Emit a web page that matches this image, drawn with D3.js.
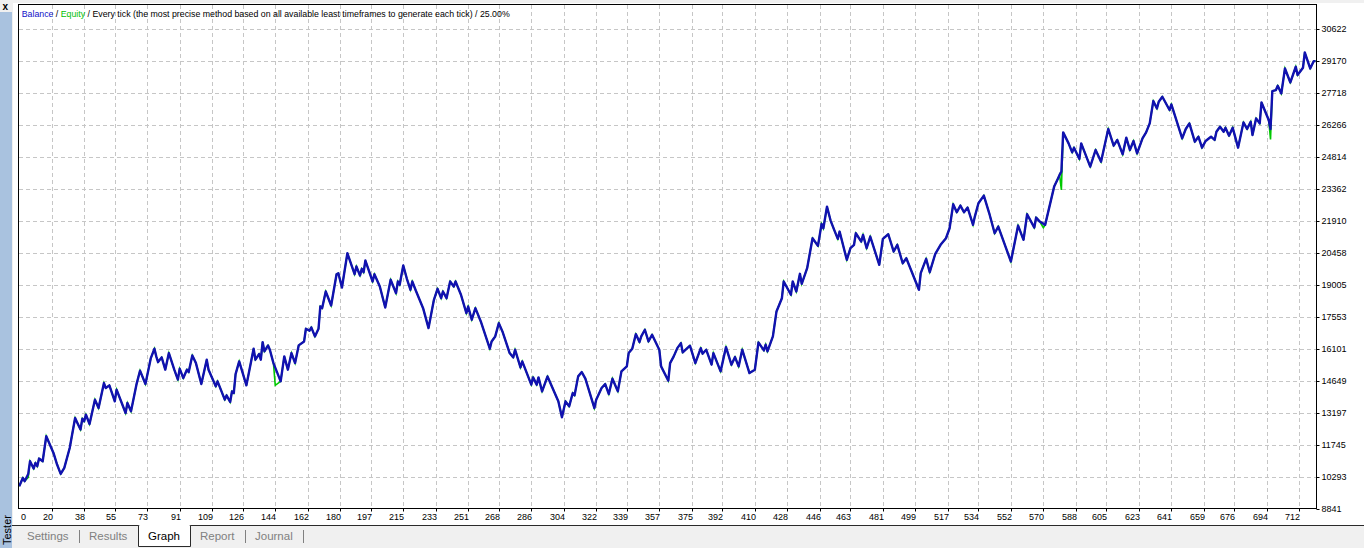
<!DOCTYPE html>
<html>
<head>
<meta charset="utf-8">
<script src="https://cdn.jsdelivr.net/npm/d3@7"></script>
<style>
html, body { margin: 0; padding: 0; background: #f0f0f0; overflow: hidden; }
svg { display: block; font-family: "Liberation Sans", Arial, sans-serif; }
</style>
</head>
<body>
<svg id="chart" width="1364" height="548"></svg>
<script>
// [trade #, balance]
const balancePoints = [
  [2,9853],[4,10230],[5,10080],[7,10411],[8,10988],[10,10656],[11,10910],[12,10761],[13,11110],[15,10988],
  [17,12122],[21,11364],[23,10838],[25,10411],[27,10684],[30,11591],[33,12952],[34,12771],[36,12426],[37,12925],
  [38,12802],[39,13106],[41,12680],[44,13787],[46,13406],[49,14540],[50,14313],[52,14436],[55,13710],[56,14241],
  [61,13179],[62,13633],[64,13256],[67,14468],[69,15103],[72,14495],[75,15675],[77,16101],[78,15752],[79,15493],
  [81,15707],[83,15148],[85,15902],[88,15148],[90,14695],[91,15194],[93,14767],[95,15148],[96,15040],[98,15797],
  [100,15448],[103,14495],[106,15602],[107,15148],[111,14391],[112,14618],[116,13787],[117,13982],[119,13678],[120,14164],
  [121,14087],[122,14949],[124,15525],[125,15253],[128,14436],[132,16101],[133,15602],[135,15856],[136,15602],[137,16402],
  [138,15979],[140,16251],[141,16056],[143,15448],[147,14618],[149,15752],[151,15148],[153,15902],[155,15448],[157,16251],
  [160,16432],[161,17009],[163,16918],[164,17068],[166,16659],[168,17009],[169,18021],[170,17943],[172,18701],[175,18066],
  [178,19486],[179,19532],[181,18883],[184,20439],[188,19486],[189,19836],[191,19427],[192,19731],[193,19577],[194,20108],
  [198,19155],[199,19486],[202,18928],[205,17975],[208,19232],[211,18624],[212,19155],[213,19005],[215,19881],[217,19277],
  [219,18778],[220,19155],[222,18733],[226,17943],[229,17036],[232,18325],[234,18824],[236,18397],[237,18701],[239,18397],
  [241,19155],[243,18928],[244,19155],[247,18552],[250,17717],[251,18021],[253,17417],[255,17943],[258,17340],[263,16101],
  [264,16432],[266,16659],[268,17263],[270,16886],[274,15902],[276,15707],[277,16056],[280,15253],[281,15525],[286,14468],
  [287,14799],[289,14468],[290,14799],[292,14164],[295,14844],[297,14468],[301,13710],[303,12984],[305,13710],[307,13483],
  [309,14087],[310,13982],[312,14844],[314,15040],[316,14740],[321,13406],[322,13787],[325,14313],[327,14495],[329,14041],
  [331,14740],[334,14164],[336,15071],[339,15298],[340,15902],[342,16101],[344,16764],[346,16402],[347,16659],[349,16963],
  [351,16432],[353,16736],[357,16056],[358,15298],[362,14649],[363,15448],[365,15752],[367,16128],[369,16355],[370,15933],
  [374,16237],[377,15448],[380,16128],[381,15874],[383,16056],[386,15375],[387,15902],[391,15071],[394,16174],[397,15375],
  [399,15720],[401,15298],[403,16056],[407,14994],[410,15148],[412,16387],[415,16024],[416,16283],[417,15979],[420,16659],
  [422,17794],[425,18397],[426,19155],[430,18552],[431,19155],[433,18701],[435,19504],[436,19051],[439,19759],[442,21120],
  [445,20775],[447,21773],[448,21573],[450,22558],[452,21923],[454,21501],[456,21092],[457,21424],[461,20140],[463,20666],
  [465,20820],[466,21347],[469,20970],[470,21274],[472,20666],[474,21197],[479,19913],[481,21092],[484,21301],[487,20516],
  [489,20820],[492,19985],[494,20212],[501,18778],[502,19532],[505,20185],[507,19577],[510,20394],[513,20820],[516,21120],
  [518,21573],[520,22662],[522,22300],[524,22603],[526,22300],[528,22513],[531,21728],[532,22104],[534,22708],[537,23057],
  [540,22254],[543,21347],[545,21651],[552,20062],[556,21696],[559,21047],[561,22209],[565,21605],[566,22059],[568,21877],
  [571,21728],[576,23466],[578,23815],[579,23996],[580,24146],[581,25929],[584,25430],[586,25022],[587,25235],[590,24723],
  [591,25430],[596,24373],[599,25131],[602,24600],[606,26084],[609,25326],[611,25585],[614,24931],[616,25689],[618,25131],
  [620,25539],[622,24977],[625,25657],[627,25929],[629,26338],[631,27354],[633,27018],[634,27322],[636,27549],[640,26946],
  [641,27200],[647,25657],[649,26084],[651,26338],[654,25507],[656,25734],[658,25235],[660,25539],[663,25734],[665,25585],
  [666,25961],[668,26188],[670,25961],[671,26143],[673,25780],[675,26143],[678,25235],[681,26383],[683,26084],[685,26415],
  [686,25812],[688,26565],[690,26338],[691,27291],[695,26492],[696,26084],[697,27808],[699,27853],[700,28048],[702,27699],
  [704,28833],[707,28198],[710,28911],[711,28534],[714,28865],[715,29559],[718,28833],[720,29169],[721,29169]
];

// equity where it falls below the balance line
const equityDips = [[7,10250],[144,14436],[570,21600],[580,23316],[696,25612]];

const xTicks = [0,20,38,55,73,91,109,126,144,162,180,197,215,233,251,268,286,304,322,339,357,375,392,410,428,446,463,481,499,517,534,552,570,588,605,623,641,659,676,694,712];
const yTicks = [8841,10293,11745,13197,14649,16101,17553,19005,20458,21910,23362,24814,26266,27718,29170,30622];

const legendParts = [
  {text: "Balance", color: "#1010c8"},
  {text: " / ", color: "#000"},
  {text: "Equity", color: "#00c000"},
  {text: " / Every tick (the most precise method based on all available least timeframes to generate each tick) / 25.00%", color: "#000"}
];
const tabs = ["Settings", "Results", "Graph", "Report", "Journal"];
const activeTab = "Graph";

const W = 1364, H = 548;
const plot = {left: 18.5, right: 1316.5, top: 4.5, bottom: 508.5};

const svg = d3.select("#chart");

// window chrome
svg.append("rect").attr("x", 13).attr("y", 3).attr("width", W - 13).attr("height", 522).attr("fill", "#fff");
svg.append("rect").attr("x", 0).attr("y", 12).attr("width", 12).attr("height", H - 12).attr("fill", "#a9c2df");
svg.append("text").attr("x", 2.5).attr("y", 9.5).attr("font-size", 10).attr("font-weight", "bold").text("x");
svg.append("text")
    .attr("transform", "translate(10.5,545) rotate(-90)")
    .attr("font-size", 11).attr("fill", "#000")
    .text("Tester");

const x = d3.scaleLinear().domain([1.6, 721.5]).range([plot.left, plot.right]);
const y = d3.scaleLinear().domain([8841, 31740]).range([plot.bottom, plot.top]);

// grid
const grid = svg.append("g")
    .attr("stroke", "#c6c6c6")
    .attr("stroke-dasharray", "4,3")
    .attr("shape-rendering", "crispEdges");

grid.selectAll(".vg")
    .data(xTicks.filter(d => d > 0))
    .join("line")
    .attr("x1", d => Math.round(x(d)) + 0.5)
    .attr("x2", d => Math.round(x(d)) + 0.5)
    .attr("y1", plot.top)
    .attr("y2", plot.bottom);

grid.selectAll(".hg")
    .data(yTicks.slice(1))
    .join("line")
    .attr("x1", plot.left)
    .attr("x2", plot.right)
    .attr("y1", d => Math.round(y(d)) + 0.5)
    .attr("y2", d => Math.round(y(d)) + 0.5);

// lines
svg.append("clipPath").attr("id", "clip")
    .append("rect")
    .attr("x", plot.left).attr("y", plot.top)
    .attr("width", plot.right - plot.left).attr("height", plot.bottom - plot.top);

const dipMap = new Map(equityDips.map(d => [d[0], d[1]]));
const equityPoints = balancePoints
    .map(d => dipMap.has(d[0]) ? [d[0], dipMap.get(d[0])] : d)
    .concat(equityDips.filter(d => !balancePoints.some(b => b[0] === d[0])))
    .sort((a, b) => a[0] - b[0]);

const line = d3.line()
    .x(d => x(d[0]))
    .y(d => y(d[1]));

const lines = svg.append("g").attr("clip-path", "url(#clip)");

lines.append("path")
    .datum(equityPoints)
    .attr("fill", "none")
    .attr("stroke", "#00c800")
    .attr("stroke-width", 1.6)
    .attr("d", line);

lines.append("path")
    .datum(balancePoints)
    .attr("fill", "none")
    .attr("stroke", "#1111b0")
    .attr("stroke-width", 2.4)
    .attr("stroke-linejoin", "round")
    .attr("d", line);

// border
svg.append("rect")
    .attr("x", plot.left).attr("y", plot.top)
    .attr("width", plot.right - plot.left).attr("height", plot.bottom - plot.top)
    .attr("fill", "none").attr("stroke", "#000")
    .attr("shape-rendering", "crispEdges");

// axes
const gy = svg.append("g")
    .attr("transform", `translate(${plot.right},0)`)
    .call(d3.axisRight(y).tickValues(yTicks).tickSize(3).tickPadding(2).tickFormat(d3.format("d")));
gy.select(".domain").remove();
gy.attr("font-size", 9).attr("font-family", null).attr("color", "#000");
gy.selectAll(".tick").attr("transform", d => `translate(0,${Math.round(y(d)) + 0.5})`);

const gx = svg.append("g")
    .attr("transform", `translate(0,${plot.bottom})`)
    .call(d3.axisBottom(x).tickValues(xTicks).tickSize(3).tickPadding(2).tickFormat(d3.format("d")));
gx.select(".domain").remove();
gx.attr("font-size", 9).attr("font-family", null).attr("color", "#000");
gx.selectAll(".tick")
    .attr("transform", d => `translate(${Math.round(x(d)) + 0.5},0)`)
    .select("text").attr("text-anchor", "end").attr("x", 0.5);
gx.selectAll(".tick").filter(d => d === 0)
    .attr("transform", `translate(${plot.left},0)`)
    .call(t => {
        t.select("line").remove();
        t.select("text").attr("text-anchor", "start").attr("x", 2.5);
    });

// legend line
const legend = svg.append("text")
    .attr("x", 21.7).attr("y", 17)
    .attr("font-size", 9)
    .attr("textLength", 488)
    .attr("lengthAdjust", "spacingAndGlyphs");
legend.selectAll("tspan")
    .data(legendParts)
    .join("tspan")
    .attr("fill", d => d.color)
    .text(d => d.text);

// tab bar
const bar = svg.append("g");
bar.append("line")
    .attr("x1", 12).attr("x2", W).attr("y1", 525.5).attr("y2", 525.5)
    .attr("stroke", "#2a2a2a");

let cursor = 27;
let prevBoundary = 17;
tabs.forEach((name, i) => {
    const isActive = name === activeTab;
    const t = bar.append("text")
        .attr("x", cursor).attr("y", 540)
        .attr("font-size", 11.5)
        .attr("fill", isActive ? "#000" : "#808080")
        .text(name);
    const w = t.node().getComputedTextLength();
    const boundary = Math.round(cursor + w + 10.5) + 0.5;
    if (isActive) {
        bar.insert("path", "text")
            .attr("d", `M${prevBoundary},525.5V546.5H${boundary}V525.5`)
            .attr("fill", "#fff")
            .attr("stroke", "#2a2a2a");
    } else if (tabs[i + 1] !== activeTab) {
        bar.append("line")
            .attr("x1", boundary).attr("x2", boundary)
            .attr("y1", 530).attr("y2", 543)
            .attr("stroke", "#808080");
    }
    prevBoundary = boundary;
    cursor = boundary + 9.5;
});
// white-out the bar line above the active tab
const activeIdx = tabs.indexOf(activeTab);
bar.selectAll("path").each(function () {
    const b = this.getBBox();
    bar.append("line")
        .attr("x1", b.x + 1).attr("x2", b.x + b.width - 1)
        .attr("y1", 525.5).attr("y2", 525.5)
        .attr("stroke", "#fff");
});
</script>
</body>
</html>
